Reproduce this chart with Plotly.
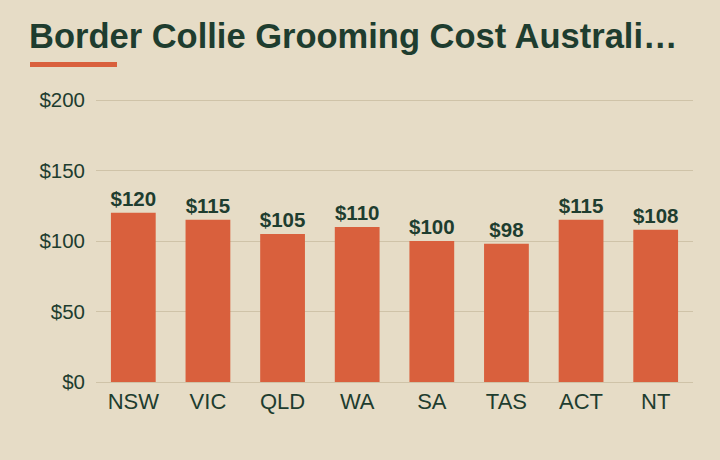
import plotly.graph_objects as go

states = ["NSW", "VIC", "QLD", "WA", "SA", "TAS", "ACT", "NT"]
costs = [120, 115, 105, 110, 100, 98, 115, 108]
y_ticks = [0, 50, 100, 150, 200]
title_text = "Border Collie Grooming Cost Australi…"

W, H = 720, 460
ml, mr, mt, mb = 96, 27, 96, 78
pw = W - ml - mr
ph = H - mt - mb
y_top = 200 * ph / 282.0

def px_x(p):
    return (p - ml) / pw

def px_y(p):
    return (H - mb - p) / ph

bg = "#E6DCC6"
bar_c = "#D9603D"
ink = "#1E3D2F"
grid_c = "#CFC3A8"

labels = ["$" + str(v) for v in costs]

fig = go.Figure(go.Bar(
    x=states, y=costs, width=0.6,
    marker=dict(color=bar_c, line=dict(width=0)),
    text=labels, texttemplate="%{text}", textposition="outside",
    constraintext="none",
    textfont=dict(family="Liberation Sans, Arial, sans-serif", size=20.5, color=ink, weight="bold"),
    cliponaxis=False, hoverinfo="skip",
))

fig.update_layout(
    width=W, height=H,
    margin=dict(l=ml, r=mr, t=mt, b=mb),
    paper_bgcolor=bg, plot_bgcolor=bg,
    showlegend=False,
    font=dict(family="Liberation Sans, Arial, sans-serif", color=ink),
    xaxis=dict(showgrid=False, showline=False, ticks="", ticklabelstandoff=4,
               tickfont=dict(size=22, color=ink)),
    yaxis=dict(range=[0, y_top], tickvals=y_ticks, ticktext=["$" + str(v) for v in y_ticks],
               showgrid=True, gridcolor=grid_c, gridwidth=1,
               zeroline=True, zerolinecolor=grid_c, zerolinewidth=1, showline=False,
               ticks="", ticklabelstandoff=10, tickfont=dict(size=20.5, color=ink)),
)

fig.add_annotation(
    text="<b>" + title_text + "</b>", xref="paper", yref="paper",
    x=px_x(27), y=px_y(36), xanchor="left", yanchor="middle", showarrow=False,
    font=dict(family="Liberation Sans, Arial, sans-serif", size=34.5, color=ink),
)
fig.add_shape(type="rect", xref="paper", yref="paper",
              x0=px_x(30), x1=px_x(117), y0=px_y(67), y1=px_y(62),
              fillcolor=bar_c, line=dict(width=0))

fig.write_html("out.html")
